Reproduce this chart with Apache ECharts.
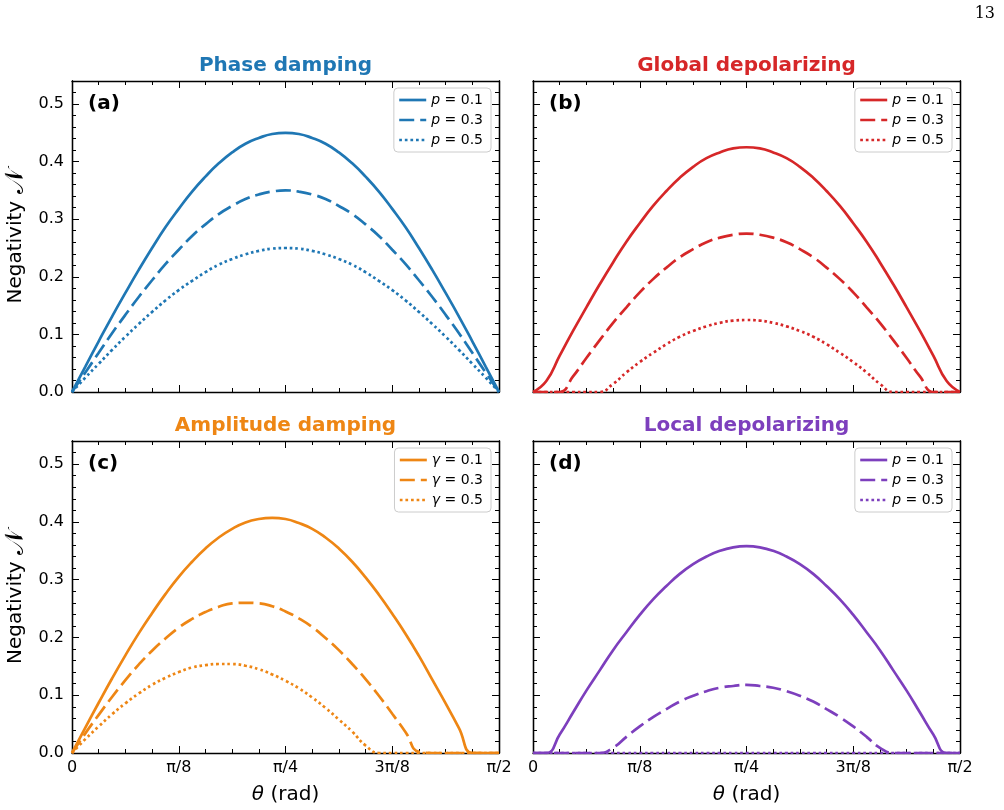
<!DOCTYPE html>
<html>
<head>
<meta charset="utf-8">
<script src="https://cdn.jsdelivr.net/npm/echarts@6/dist/echarts.min.js"></script>
<style>
  html, body { margin: 0; padding: 0; background: #fff; }
  #chart { width: 1004px; height: 810px; }
</style>
</head>
<body>
<div id="chart"></div>
<script>
// theta in degrees (0 .. 90 = pi/2), step pi/64
var THETA = [0, 2.8125, 5.625, 8.4375, 11.25, 14.0625, 16.875, 19.6875, 22.5, 25.3125, 28.125,
    30.9375, 33.75, 36.5625, 39.375, 42.1875, 45, 47.8125, 50.625, 53.4375, 56.25, 59.0625,
    61.875, 64.6875, 67.5, 70.3125, 73.125, 75.9375, 78.75, 81.5625, 84.375, 87.1875, 90];
var X_TICK_LABELS = ['0', 'π/8', 'π/4', '3π/8', 'π/2'];
var PARAMS = ['0.1', '0.3', '0.5'];

// (a) phase damping
var PHASE_01 = [0, .044, .088, .131, .172, .212, .250, .286, .318, .348, .374, .397, .416, .431, .441, .448, .450,
    .448, .441, .431, .416, .397, .374, .348, .318, .286, .250, .212, .172, .131, .088, .044, 0];
var PHASE_03 = [0, .034, .068, .102, .134, .165, .194, .222, .247, .271, .291, .309, .323, .335, .343, .348, .350,
    .348, .343, .335, .323, .309, .291, .271, .247, .222, .194, .165, .134, .102, .068, .034, 0];
var PHASE_05 = [0, .025, .049, .073, .096, .118, .139, .159, .177, .193, .208, .221, .231, .239, .245, .249, .250,
    .249, .245, .239, .231, .221, .208, .193, .177, .159, .139, .118, .096, .073, .049, .025, 0];
// (b) global depolarizing
var GLOBAL_01 = [0, .019, .063, .106, .147, .187, .225, .261, .293, .323, .349, .372, .391, .406, .416, .423, .425,
    .423, .416, .406, .391, .372, .349, .323, .293, .261, .225, .187, .147, .106, .063, .019, 0];
var GLOBAL_03 = [0, 0, 0, .027, .059, .090, .120, .147, .173, .196, .216, .234, .248, .260, .268, .273, .275,
    .273, .268, .260, .248, .234, .216, .196, .173, .147, .120, .090, .059, .027, 0, 0, 0];
var GLOBAL_05 = [0, 0, 0, 0, 0, 0, .014, .034, .052, .068, .083, .096, .106, .114, .120, .124, .125,
    .124, .120, .114, .106, .096, .083, .068, .052, .034, .014, 0, 0, 0, 0, 0, 0];
// (c) amplitude damping
var AMP_01 = [0, .044, .087, .129, .169, .207, .242, .275, .305, .331, .354, .373, .388, .399, .405, .407, .405,
    .398, .388, .373, .354, .331, .304, .274, .241, .206, .168, .127, .086, .043, 0, 0, 0];
var AMP_03 = [0, .034, .066, .097, .126, .153, .177, .198, .217, .232, .244, .253, .259, .260, .259, .254, .245,
    .233, .218, .199, .178, .154, .128, .099, .068, .036, .002, 0, 0, 0, 0, 0, 0];
var AMP_05 = [0, .024, .046, .067, .086, .103, .118, .130, .140, .148, .152, .154, .154, .151, .145, .136, .125,
    .112, .096, .078, .058, .037, .013, 0, 0, 0, 0, 0, 0, 0, 0, 0, 0];
// (d) local depolarizing
var LOCAL_01 = [0, 0, .032, .070, .108, .143, .178, .209, .239, .266, .289, .310, .327, .340, .350, .356, .358,
    .356, .350, .340, .327, .310, .289, .266, .239, .209, .178, .143, .108, .070, .032, 0, 0];
var LOCAL_03 = [0, 0, 0, 0, 0, 0, .009, .028, .046, .062, .076, .089, .099, .107, .113, .116, .118,
    .116, .113, .107, .099, .089, .076, .062, .046, .028, .009, 0, 0, 0, 0, 0, 0];
var LOCAL_05 = [0, 0, 0, 0, 0, 0, 0, 0, 0, 0, 0, 0, 0, 0, 0, 0, 0,
    0, 0, 0, 0, 0, 0, 0, 0, 0, 0, 0, 0, 0, 0, 0, 0];

var FONT = 'DejaVu Sans';
var DASHES = ['solid', [15, 6], [2.7, 2.9]];

var PANELS = [
    {key: 'a', title: 'Phase damping', color: '#1f77b4', sym: 'p', data: [PHASE_01, PHASE_03, PHASE_05],
        left: 72, top: 81, height: 311, showX: false, showY: true, legendRight: 513},
    {key: 'b', title: 'Global depolarizing', color: '#d62728', sym: 'p', data: [GLOBAL_01, GLOBAL_03, GLOBAL_05],
        left: 533, top: 81, height: 311, showX: false, showY: false, legendRight: 52},
    {key: 'c', title: 'Amplitude damping', color: '#ee8614', sym: 'γ', data: [AMP_01, AMP_03, AMP_05],
        left: 72, top: 441, height: 312, showX: true, showY: true, legendRight: 513},
    {key: 'd', title: 'Local depolarizing', color: '#7d3fbd', sym: 'p', data: [LOCAL_01, LOCAL_03, LOCAL_05],
        left: 533, top: 441, height: 312, showX: true, showY: false, legendRight: 52}
];
var GRID_W = 427;

function pairs(ys) {
    return THETA.map(function (t, i) { return [t, ys[i]]; });
}

function xAxis(g, pos, labels) {
    return {
        type: 'value', gridIndex: g, position: pos, min: 0, max: 90, interval: 22.5,
        axisLine: {show: true, onZero: false, lineStyle: {color: '#000', width: 1.3}},
        axisTick: {show: true, inside: true, length: 7, lineStyle: {color: '#000', width: 1}},
        minorTick: {show: true, splitNumber: 4, length: 4, lineStyle: {color: '#000', width: 1}},
        splitLine: {show: false},
        axisLabel: {
            show: labels, margin: 7, color: '#000', fontSize: 16, fontFamily: FONT,
            formatter: function (v) { return X_TICK_LABELS[Math.round(v / 22.5)]; }
        },
        name: labels ? '{i|θ} (rad)' : '', nameLocation: 'middle', nameGap: 32,
        nameTextStyle: {color: '#000', fontSize: 20, fontFamily: FONT,
            rich: {i: {fontStyle: 'italic', fontSize: 20, fontFamily: FONT, color: '#000'}}}
    };
}

function yAxis(g, pos, labels, minor) {
    return {
        type: 'value', gridIndex: g, position: pos, min: 0, max: 0.54, interval: minor ? 0.02 : 0.1,
        axisLine: {show: true, onZero: false, lineStyle: {color: '#000', width: 1.3}},
        axisTick: {show: true, inside: true, length: minor ? 4 : 7, lineStyle: {color: '#000', width: 1}},
        splitLine: {show: false},
        axisLabel: {
            show: labels, showMaxLabel: false, margin: 8, color: '#000', fontSize: 16, fontFamily: FONT,
            formatter: function (v) { return v > 0.51 ? '' : v.toFixed(1); }
        },
        name: labels ? 'Negativity {n|𝒩}' : '', nameLocation: 'middle', nameGap: 43,
        nameTextStyle: {color: '#000', fontSize: 20, fontFamily: FONT,
            rich: {n: {fontSize: 26, fontFamily: 'DejaVu Serif', color: '#000'}}}
    };
}

var grids = [], xAxes = [], yAxes = [], series = [], legends = [], graphics = [];

PANELS.forEach(function (p, g) {
    grids.push({left: p.left, top: p.top, width: GRID_W, height: p.height});
    xAxes.push(xAxis(g, 'bottom', p.showX));
    xAxes.push(xAxis(g, 'top', false));
    yAxes.push(yAxis(g, 'left', p.showY, false));
    yAxes.push(yAxis(g, 'left', false, true));
    yAxes.push(yAxis(g, 'right', false, false));
    yAxes.push(yAxis(g, 'right', false, true));

    var names = [];
    p.data.forEach(function (ys, k) {
        var name = p.sym + ' = ' + PARAMS[k] + '#' + p.key;
        names.push(name);
        series.push({
            name: name, type: 'line', xAxisIndex: 2 * g, yAxisIndex: 4 * g,
            data: pairs(ys), symbol: 'none', showSymbol: false, clip: true,
            smooth: 0.5,
            lineStyle: {color: p.color, width: 2.7, type: DASHES[k]},
            itemStyle: {color: p.color}, z: 3 - k
        });
    });

    legends.push({
        data: names, orient: 'vertical', right: p.legendRight, top: p.top + 7,
        itemWidth: 27, itemHeight: 14, itemGap: 6, padding: [5, 8, 5, 4],
        backgroundColor: 'rgba(255,255,255,0.85)', borderColor: '#cccccc', borderWidth: 1, borderRadius: 4,
        selectedMode: false,
        // hide the round marker drawn on line legend icons
        itemStyle: {opacity: 0, borderWidth: 0},
        lineStyle: {width: 2.7},
        formatter: function (name) {
            var txt = name.split('#')[0];
            return '{i|' + txt.charAt(0) + '}' + txt.slice(1);
        },
        textStyle: {color: '#000', fontSize: 14, fontFamily: FONT,
            rich: {i: {fontStyle: 'italic', fontSize: 14, fontFamily: FONT, color: '#000'}}}
    });

    // panel title
    graphics.push({
        type: 'text', x: p.left + GRID_W / 2, y: p.top - 15,
        style: {text: p.title, fill: p.color, font: 'bold 20px "DejaVu Sans"', align: 'center', verticalAlign: 'middle'}
    });
    // panel letter
    graphics.push({
        type: 'text', x: p.left + 16, y: p.top + 23,
        style: {text: '(' + p.key + ')', fill: '#000', font: 'bold 20px "DejaVu Sans"', align: 'left', verticalAlign: 'middle'}
    });
});

// page number
graphics.push({
    type: 'text', x: 995, y: 14,
    style: {text: '13', fill: '#000', font: '16px "DejaVu Serif"', align: 'right', verticalAlign: 'middle'}
});

var chart = echarts.init(document.getElementById('chart'));
chart.setOption({
    animation: false,
    backgroundColor: '#fff',
    grid: grids,
    xAxis: xAxes,
    yAxis: yAxes,
    legend: legends,
    series: series,
    graphic: graphics
});
</script>
</body>
</html>
